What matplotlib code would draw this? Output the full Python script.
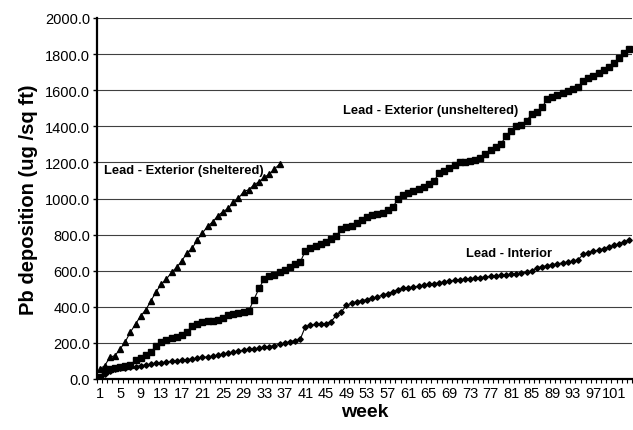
import matplotlib
matplotlib.use("Agg")
import matplotlib.pyplot as plt
from matplotlib.ticker import FixedLocator, FuncFormatter

plt.rcParams['font.family'] = ['Liberation Sans', 'DejaVu Sans']

weeks = list(range(1, 105))

sheltered = [55, 74, 120, 130, 166, 207, 260, 305, 350, 384,
             434, 484, 526, 554, 591, 619, 656, 698, 724, 772,
             809, 846, 871, 905, 927, 945, 979, 1001, 1038, 1049,
             1075, 1093, 1117, 1136, 1163, 1191]

unsheltered = [10, 45, 55, 60, 65, 70, 78, 105, 115, 135,
               150, 185, 205, 215, 225, 232, 242, 260, 296, 306,
               314, 320, 324, 328, 336, 356, 362, 366, 370, 378,
               440, 502, 555, 569, 576, 591, 606, 620, 637, 646,
               711, 724, 736, 748, 758, 776, 794, 831, 840, 850,
               864, 883, 900, 910, 915, 922, 935, 952, 997, 1020,
               1030, 1040, 1054, 1066, 1078, 1097, 1140, 1154, 1170, 1185,
               1200, 1204, 1207, 1212, 1224, 1246, 1266, 1283, 1300, 1346,
               1375, 1402, 1408, 1432, 1466, 1478, 1505, 1550, 1562, 1571,
               1584, 1594, 1605, 1616, 1652, 1667, 1680, 1693, 1710, 1730,
               1750, 1780, 1808, 1830]

interior = [3, 28, 45, 55, 59, 63, 66, 69, 74, 78,
            82, 86, 90, 94, 97, 100, 104, 107, 111, 115,
            120, 122, 127, 132, 136, 142, 148, 155, 160, 165,
            167, 170, 175, 180, 184, 192, 199, 207, 213, 220,
            290, 298, 302, 303, 306, 318, 352, 372, 408, 420,
            428, 434, 440, 447, 455, 464, 473, 482, 495, 502,
            506, 510, 514, 519, 524, 528, 533, 538, 542, 546,
            550, 553, 556, 559, 562, 565, 568, 571, 574, 577,
            580, 583, 587, 592, 598, 616, 622, 627, 633, 638,
            643, 648, 652, 660, 690, 700, 708, 714, 722, 730,
            740, 750, 760, 770]

labels = ["Lead - Exterior (sheltered)", "Lead - Exterior (unsheltered)", "Lead - Interior"]

fig = plt.figure(figsize=(6.33, 4.31), dpi=100)
ax = fig.add_axes([97/633, 1-380/431, (632-97)/633, (380-19)/431])

ax.plot(weeks[:len(sheltered)], sheltered, color='black', lw=0.8, marker='^', ms=4.3, mec='black', mfc='black')
ax.plot(weeks, unsheltered, color='black', lw=0.8, marker='s', ms=4.8, mec='black', mfc='black')
ax.plot(weeks, interior, color='black', lw=0.8, marker='D', ms=2.8, mec='black', mfc='black')

ax.set_xlim(0.5, len(weeks) + 0.5)
ax.set_ylim(0, 2000)
ax.set_yticks(range(0, 2001, 200))
ax.yaxis.set_major_formatter(FuncFormatter(lambda v, p: f"{v:.1f}"))
ax.yaxis.grid(True, color='#404040', lw=0.8)
ax.set_axisbelow(True)

major = [w for w in weeks if (w - 1) % 4 == 0]
ax.xaxis.set_major_locator(FixedLocator(major))
ax.set_xticklabels([str(w) for w in major])
ax.xaxis.set_minor_locator(FixedLocator([w + 0.5 for w in range(0, len(weeks) + 1)]))
ax.tick_params(axis='x', which='major', length=0, labelsize=10.5, pad=5)
ax.tick_params(axis='x', which='minor', length=3, width=0.8, direction='out')
ax.tick_params(axis='y', which='major', length=3, width=1, labelsize=10.5, pad=2)

for s in ['top', 'right']:
    ax.spines[s].set_visible(False)
ax.spines['left'].set_linewidth(1.6)
ax.spines['bottom'].set_linewidth(1.6)

ax.set_xlabel("week", fontsize=14, fontweight='bold', labelpad=2)
ax.set_ylabel("Pb deposition (ug /sq ft)", fontsize=14.5, fontweight='bold', labelpad=5)

ax.text(1.8, 1160, labels[0], fontsize=9.3, fontweight='bold', va='center', ha='left')
ax.text(48.3, 1490, labels[1], fontsize=9.3, fontweight='bold', va='center', ha='left')
ax.text(72.2, 700, labels[2], fontsize=9.3, fontweight='bold', va='center', ha='left')

fig.savefig("out.png", dpi=100)
